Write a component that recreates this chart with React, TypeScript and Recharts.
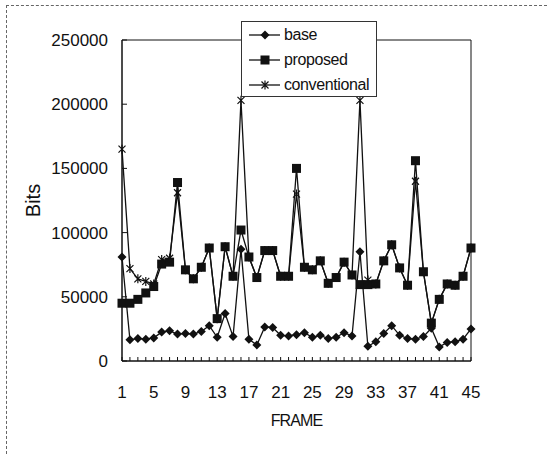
import { LineChart, Line, XAxis, YAxis, Legend, ReferenceArea, Label } from "recharts";

const frames = [
  1, 2, 3, 4, 5, 6, 7, 8, 9, 10, 11, 12, 13, 14, 15, 16, 17, 18, 19, 20, 21, 22, 23,
  24, 25, 26, 27, 28, 29, 30, 31, 32, 33, 34, 35, 36, 37, 38, 39, 40, 41, 42, 43, 44, 45,
];

const base = [
  81000, 16500, 17500, 17000, 18000, 22500, 23500, 21000, 21500, 21000, 23000, 27500,
  18500, 37000, 19000, 87000, 17000, 12500, 26500, 26000, 20000, 19500, 20500, 22000,
  18500, 20000, 17500, 18500, 22000, 19500, 85000, 11500, 15000, 21500, 27500, 20000,
  17500, 17000, 19000, 25500, 11000, 14500, 15000, 17000, 25000,
];

const proposed = [
  45000, 45000, 48000, 53000, 58000, 75500, 77000, 139000, 71000, 64000, 73000, 88000,
  33000, 89000, 66000, 102000, 81000, 65000, 86000, 86000, 66000, 66000, 150000, 73000,
  71000, 78000, 60500, 65000, 77000, 67000, 59500, 59500, 60000, 78000, 90500, 72500,
  59000, 156000, 69500, 29500, 48000, 60000, 59000, 66000, 88000,
];

const conventional = [
  165000, 72000, 64000, 62000, 60000, 79000, 80000, 131000, 71000, 64000, 73000, 88000,
  33000, 89000, 66000, 203000, 81000, 65000, 86000, 86000, 66000, 66000, 130000, 73000,
  71000, 78000, 60500, 65000, 77000, 67000, 203000, 63000, 60000, 78000, 90500, 72500,
  59000, 140000, 69500, 29500, 48000, 60000, 59000, 66000, 88000,
];

const yTicks = [0, 50000, 100000, 150000, 200000, 250000];
const labeledFrames = [1, 5, 9, 13, 17, 21, 25, 29, 33, 37, 41, 45];

const data = frames.map((f, i) => ({
  frame: f,
  base: base[i],
  proposed: proposed[i],
  conventional: conventional[i],
}));

const INK = "#111";
const FONT = "'Liberation Sans', Arial, sans-serif";

function Diamond({ cx, cy }: any) {
  if (cx == null || cy == null) return null;
  const r = 4.5;
  return <path d={`M${cx},${cy - r}L${cx + r},${cy}L${cx},${cy + r}L${cx - r},${cy}Z`} fill={INK} />;
}

function Square({ cx, cy }: any) {
  if (cx == null || cy == null) return null;
  const r = 4.5;
  return <rect x={cx - r} y={cy - r} width={r * 2} height={r * 2} fill={INK} />;
}

function Star({ cx, cy }: any) {
  if (cx == null || cy == null) return null;
  const r = 3.5;
  return (
    <path
      d={`M${cx - r},${cy - r}L${cx + r},${cy + r}M${cx - r},${cy + r}L${cx + r},${cy - r}M${cx},${cy - r - 1}L${cx},${cy + r + 1}`}
      stroke={INK}
      strokeWidth={1.2}
      fill="none"
    />
  );
}

const legendItems = [
  { name: "base", Marker: Diamond },
  { name: "proposed", Marker: Square },
  { name: "conventional", Marker: Star },
];

function LegendBox() {
  return (
    <div
      style={{
        width: 134,
        height: 74,
        border: "1px solid #333",
        background: "#fff",
        position: "relative",
      }}
    >
      {legendItems.map((it, i) => (
        <div
          key={it.name}
          style={{ position: "absolute", left: 0, top: 2 + i * 25, height: 22, display: "flex", alignItems: "center" }}
        >
          <svg width={40} height={22} style={{ display: "block" }}>
            <line x1={7} x2={38} y1={11} y2={11} stroke={INK} strokeWidth={1.3} />
            <it.Marker cx={23} cy={11} />
          </svg>
          <span style={{ fontFamily: FONT, fontSize: 16, color: INK, letterSpacing: -0.4, marginLeft: 2 }}>
            {it.name}
          </span>
        </div>
      ))}
    </div>
  );
}

export default function App() {
  return (
    <div style={{ position: "absolute", left: 0, top: 0, width: 547, height: 454, background: "#fff" }}>
      <div
        style={{
          position: "absolute",
          left: 6,
          top: 5,
          right: 0,
          bottom: 0,
          borderLeft: "1px dashed #666",
          borderTop: "1px dashed #666",
        }}
      />
      <div style={{ position: "absolute", left: 0, top: 0 }}>
        <LineChart width={547} height={454} data={data} margin={{ top: 40, right: 76, bottom: 53, left: 0 }}>
          <ReferenceArea
            x1={1}
            x2={45}
            y1={0}
            y2={250000}
            fill="none"
            stroke={INK}
            strokeWidth={1}
            ifOverflow="visible"
          />
          <XAxis
            dataKey="frame"
            type="number"
            domain={[1, 45]}
            ticks={frames}
            interval={0}
            height={40}
            tickSize={-4}
            tickMargin={29}
            stroke={INK}
            tickFormatter={(v: number) => (labeledFrames.includes(v) ? String(v) : "")}
            tick={{ fontSize: 17, fill: INK, fontFamily: FONT }}
          >
            <Label value="FRAME" position="bottom" offset={14} style={{ fontSize: 16, fill: INK, fontFamily: FONT, letterSpacing: -0.9 }} />
          </XAxis>
          <YAxis
            width={122}
            domain={[0, 250000]}
            ticks={yTicks}
            interval={0}
            tickSize={-5}
            tickMargin={19}
            stroke={INK}
            tick={{ fontSize: 17, fill: INK, fontFamily: FONT }}
          >
            <Label value="Bits" angle={-90} position="center" dx={-28} style={{ fontSize: 20, fill: INK, fontFamily: FONT }} />
          </YAxis>
          <Legend
            layout="vertical"
            align="center"
            verticalAlign="middle"
            content={() => <LegendBox />}
            wrapperStyle={{ left: 241, top: 21, width: 136, height: 76 }}
          />
          <Line
            dataKey="base"
            stroke={INK}
            strokeWidth={1.3}
            dot={(p: any) => <Diamond key={`b${p.index}`} cx={p.cx} cy={p.cy} />}
            isAnimationActive={false}
          />
          <Line
            dataKey="proposed"
            stroke={INK}
            strokeWidth={1.3}
            dot={(p: any) => <Square key={`p${p.index}`} cx={p.cx} cy={p.cy} />}
            isAnimationActive={false}
          />
          <Line
            dataKey="conventional"
            stroke={INK}
            strokeWidth={1.3}
            dot={(p: any) => <Star key={`c${p.index}`} cx={p.cx} cy={p.cy} />}
            isAnimationActive={false}
          />
        </LineChart>
      </div>
    </div>
  );
}
